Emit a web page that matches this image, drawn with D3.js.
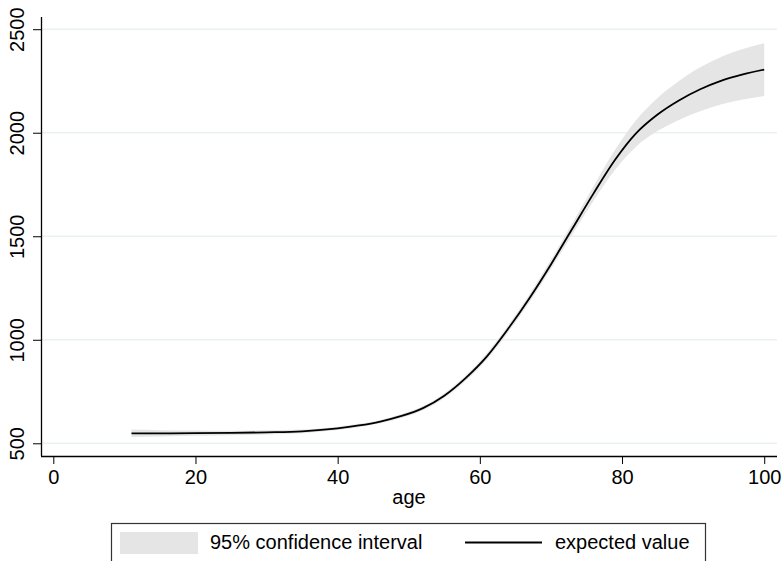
<!DOCTYPE html>
<html>
<head>
<meta charset="utf-8">
<script src="https://cdn.jsdelivr.net/npm/d3@7"></script>
<style>
  body { margin: 0; background: #fff; }
  text { font-family: "Liberation Sans", Arial, sans-serif; fill: #000; }
</style>
</head>
<body>
<div id="chart-container"></div>
<script>
// data
const ages     = [11, 15, 20, 25, 30, 35, 40, 43, 46, 49, 52, 55, 58, 61, 64, 67, 70, 73, 76, 79, 82, 85, 88, 91, 94, 97, 100]
const expected = [548, 548, 549, 550, 553, 558, 572, 586, 605, 632, 670, 730, 815, 920, 1054, 1202, 1364, 1536, 1707, 1868, 1998, 2088, 2156, 2210, 2252, 2282, 2305]
const ciLow    = [530, 533, 536, 539, 543, 549, 564, 578, 597, 623, 660, 719, 802, 905, 1037, 1183, 1342, 1509, 1672, 1820, 1934, 2008, 2062, 2104, 2137, 2160, 2178]
const ciHigh   = [566, 563, 562, 561, 563, 567, 580, 594, 613, 641, 680, 741, 828, 935, 1071, 1221, 1386, 1563, 1742, 1916, 2062, 2168, 2250, 2316, 2367, 2404, 2432]
const xTicks = [0, 20, 40, 60, 80, 100]
const yTicks = [500, 1000, 1500, 2000, 2500]
const legendLabels = ["95% confidence interval", "expected value"]

const W = 783, H = 561
const plot = { left: 41, right: 777, top: 17, bottom: 456 }

const svg = d3.select("#chart-container")
  .append("svg")
  .attr("width", W)
  .attr("height", H)

const x = d3.scaleLinear()
  .domain([-1.73, 101.8])
  .range([plot.left, plot.right])

const y = d3.scaleLinear()
  .domain([438.6, 2559])
  .range([plot.bottom, plot.top])

const data = ages.map((a, i) => ({ age: a, v: expected[i], lo: ciLow[i], hi: ciHigh[i] }))

// gridlines
svg.append("g")
  .selectAll("line")
  .data(yTicks)
  .enter().append("line")
  .attr("x1", plot.left)
  .attr("x2", plot.right)
  .attr("y1", d => y(d))
  .attr("y2", d => y(d))
  .attr("stroke", "#eaf1f2")
  .attr("stroke-width", 1.5)

// confidence band
svg.append("path")
  .datum(data)
  .attr("fill", "#e5e5e5")
  .attr("d", d3.area()
    .x(d => x(d.age))
    .y0(d => y(d.lo))
    .y1(d => y(d.hi))
    .curve(d3.curveMonotoneX))

// expected value line
svg.append("path")
  .datum(data)
  .attr("fill", "none")
  .attr("stroke", "#000")
  .attr("stroke-width", 1.8)
  .attr("d", d3.line()
    .x(d => x(d.age))
    .y(d => y(d.v))
    .curve(d3.curveMonotoneX))

// x axis
const xAxis = svg.append("g")
  .attr("transform", `translate(0,${plot.bottom})`)
  .call(d3.axisBottom(x).tickValues(xTicks).tickSize(8).tickPadding(6).tickFormat(d3.format("d")))
xAxis.select(".domain").attr("d", `M${plot.left},0.5H${plot.right}`).attr("stroke", "#000").attr("stroke-width", 1.3)
xAxis.selectAll(".tick line").attr("stroke", "#000")
xAxis.selectAll("text")
  .style("font-size", "20px")
  .style("font-family", "'Liberation Sans', Arial, sans-serif")
  .attr("fill", "#000")

// y axis
const yAxis = svg.append("g")
  .attr("transform", `translate(${plot.left},0)`)
  .call(d3.axisLeft(y).tickValues(yTicks).tickSize(8).tickFormat(d3.format("d")))
yAxis.select(".domain").attr("d", `M0.5,${plot.top}V${plot.bottom}`).attr("stroke", "#000").attr("stroke-width", 1.3)
yAxis.selectAll(".tick line").attr("stroke", "#000")
yAxis.selectAll("text")
  .attr("x", 0)
  .attr("dy", 0)
  .attr("transform", "translate(-17,0) rotate(-90)")
  .style("text-anchor", "middle")
  .style("font-size", "20px")
  .style("font-family", "'Liberation Sans', Arial, sans-serif")
  .attr("fill", "#000")

// x axis title
svg.append("text")
  .attr("x", (plot.left + plot.right) / 2)
  .attr("y", 504)
  .attr("text-anchor", "middle")
  .style("font-size", "20px")
  .text("age")

// legend
const legend = svg.append("g")
legend.append("rect")
  .attr("x", 111.5)
  .attr("y", 523.5)
  .attr("width", 594)
  .attr("height", 45)
  .attr("fill", "#fff")
  .attr("stroke", "#333")
  .attr("stroke-width", 1.2)
legend.append("rect")
  .attr("x", 120)
  .attr("y", 532)
  .attr("width", 78)
  .attr("height", 22)
  .attr("fill", "#e5e5e5")
legend.append("text")
  .attr("x", 210)
  .attr("y", 549)
  .style("font-size", "20px")
  .text(legendLabels[0])
legend.append("line")
  .attr("x1", 465)
  .attr("x2", 542)
  .attr("y1", 542.5)
  .attr("y2", 542.5)
  .attr("stroke", "#000")
  .attr("stroke-width", 2)
legend.append("text")
  .attr("x", 555)
  .attr("y", 549)
  .style("font-size", "20px")
  .text(legendLabels[1])
</script>
</body>
</html>
